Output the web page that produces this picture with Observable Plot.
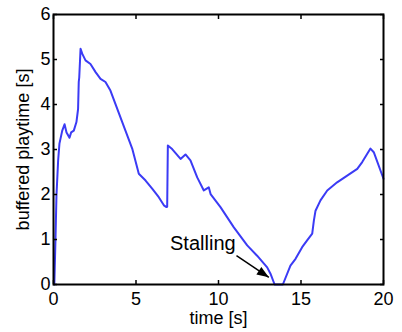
<!DOCTYPE html>
<html>
<head>
<meta charset="utf-8">
<script src="https://cdn.jsdelivr.net/npm/d3@7"></script>
<script src="https://cdn.jsdelivr.net/npm/@observablehq/plot@0.6"></script>
<style>
  html, body { margin: 0; padding: 0; background: #fff; }
  svg { display: block; }
</style>
</head>
<body>
<div id="chart"></div>
<script>
const timeS = [0.05,0.12,0.18,0.28,0.36,0.53,0.67,0.79,0.97,1.07,1.23,1.39,1.49,1.53,1.56,1.64,1.74,1.94,2.24,2.55,2.85,3.15,3.45,4.36,4.77,5.17,5.58,5.98,6.38,6.69,6.85,6.89,6.93,7.19,7.7,8.0,8.3,8.71,9.11,9.41,9.52,10.12,10.93,11.74,12.34,12.95,13.15,13.4,13.9,14.36,14.67,15.07,15.37,15.68,15.78,15.88,16.18,16.59,17.19,17.8,18.41,18.71,19.21,19.41,20.0];
const bufferS = [0,1.0,1.98,2.75,3.13,3.42,3.56,3.38,3.26,3.38,3.42,3.61,3.9,4.5,4.6,5.24,5.13,4.98,4.9,4.72,4.57,4.5,4.31,3.42,3.02,2.46,2.31,2.13,1.94,1.76,1.72,1.73,3.09,3.01,2.79,2.89,2.76,2.38,2.09,2.16,2.01,1.72,1.27,0.87,0.64,0.38,0.24,0,0,0.42,0.57,0.83,0.98,1.13,1.42,1.64,1.87,2.09,2.27,2.42,2.57,2.72,3.02,2.94,2.35];
const xTicks = [0,5,10,15,20];
const yTicks = [0,1,2,3,4,5,6];
const noteText = ["Stalling"];
const noteX = [9.05];
const noteY = [0.9];
const arrowFromX = [11.09], arrowFromY = [0.64];
const arrowToX = [13.05], arrowToY = [0.16];

const data = timeS.map((t, i) => ({t, v: bufferS[i]}));
const font = "'Liberation Sans', Arial, Helvetica, sans-serif";

const W = 402, H = 332, mL = 53, mR = 19, mT = 14, mB = 48;
const xDom = [0, 20], yDom = [0, 6];
const kx = (W - mL - mR) / (xDom[1] - xDom[0]);
const ky = (H - mT - mB) / (yDom[1] - yDom[0]);
const arrowAngle = arrowToX.map((x, i) => {
  const dx = (x - arrowFromX[i]) * kx;
  const dy = (arrowFromY[i] - arrowToY[i]) * ky;
  return Math.atan2(dx, -dy) * 180 / Math.PI;
});
const headSymbol = {
  draw(ctx) {
    ctx.moveTo(0, 0);
    ctx.lineTo(-4.5, 12);
    ctx.lineTo(4.5, 12);
    ctx.closePath();
  }
};

const chart = Plot.plot({
  width: W,
  height: H,
  marginLeft: mL,
  marginRight: mR,
  marginTop: mT,
  marginBottom: mB,
  style: {fontFamily: font, fontSize: "18px", color: "#000", background: "#fff"},
  x: {domain: xDom},
  y: {domain: yDom},
  marks: [
    Plot.line(data, {x: "t", y: "v", stroke: "#3b3bf5", strokeWidth: 2}),
    Plot.text(noteText, {x: noteX, y: noteY, text: d => d, fontSize: 20, fill: "#000"}),
    Plot.link(arrowToX, {x1: arrowFromX, y1: arrowFromY, x2: arrowToX, y2: arrowToY, stroke: "#000", strokeWidth: 1.5}),
    Plot.dot(arrowToX, {x: arrowToX, y: arrowToY, symbol: headSymbol, rotate: arrowAngle, fill: "#000", stroke: "none"}),
    Plot.axisX(xTicks, {anchor: "bottom", tickSize: 0, tickPadding: 8, fontSize: 18, label: "time [s]", labelAnchor: "center", labelArrow: "none", labelOffset: 39}),
    Plot.axisX(xTicks, {anchor: "bottom", tickSize: 4, dy: -4, text: null, label: null, strokeWidth: 1.5}),
    Plot.axisX(xTicks, {anchor: "top", tickSize: 4, dy: 4, text: null, label: null, strokeWidth: 1.5}),
    Plot.axisY(yTicks, {anchor: "left", tickSize: 0, tickPadding: 3, fontSize: 18, label: "buffered playtime [s]", labelAnchor: "center", labelArrow: "none", labelOffset: 37}),
    Plot.axisY(yTicks, {anchor: "left", tickSize: 4, dx: 4, text: null, label: null, strokeWidth: 1.5}),
    Plot.axisY(yTicks, {anchor: "right", tickSize: 4, dx: -4, text: null, label: null, strokeWidth: 1.5}),
    Plot.frame({stroke: "#000", strokeWidth: 2})
  ]
});
document.getElementById("chart").appendChild(chart);
</script>
</body>
</html>
